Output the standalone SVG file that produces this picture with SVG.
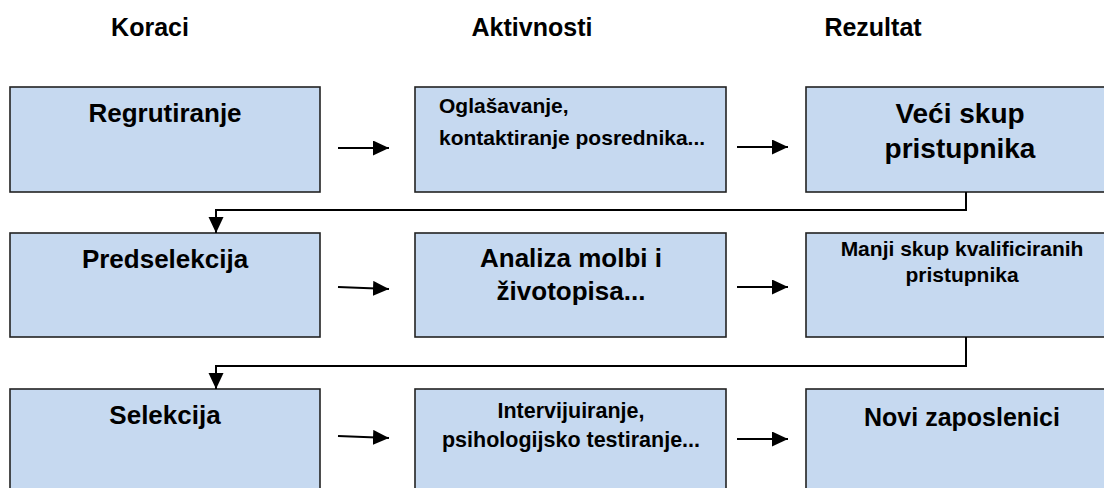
<svg xmlns="http://www.w3.org/2000/svg" width="1104" height="488" viewBox="0 0 1104 488">
<style>
.box{fill:#C6D9F0;stroke:#222;stroke-width:1.6}
text{font-family:"Liberation Sans",Arial,sans-serif;font-weight:bold;fill:#000}
.c{text-anchor:middle}
.conn{fill:none;stroke:#000;stroke-width:2}
</style>
<defs>
<marker id="ah" markerWidth="16" markerHeight="16" refX="16" refY="7.5" orient="auto" markerUnits="userSpaceOnUse">
<path d="M0,0 L16,7.5 L0,15 Z" fill="#000"/>
</marker>
</defs>
<rect width="1104" height="488" fill="#fff"/>
<g id="headers">
<text class="c" x="150" y="36" font-size="25">Koraci</text>
<text class="c" x="532" y="36" font-size="25">Aktivnosti</text>
<text class="c" x="873" y="36" font-size="25">Rezultat</text>
</g>
<g id="n-regrutiranje">
<rect class="box" x="10" y="87" width="310" height="105"/>
<text class="c" x="165" y="122" font-size="26">Regrutiranje</text>
</g>
<g id="n-oglasavanje">
<rect class="box" x="415" y="87" width="311" height="105"/>
<text x="439" y="113" font-size="21">Oglašavanje,</text>
<text x="439" y="145" font-size="21">kontaktiranje posrednika...</text>
</g>
<g id="n-veci">
<rect class="box" x="806" y="87" width="310" height="105"/>
<text class="c" x="960" y="123" font-size="28">Veći skup</text>
<text class="c" x="960" y="158" font-size="28">pristupnika</text>
</g>
<g id="n-predselekcija">
<rect class="box" x="10" y="233" width="310" height="104"/>
<text class="c" x="165" y="268" font-size="26">Predselekcija</text>
</g>
<g id="n-analiza">
<rect class="box" x="415" y="233" width="311" height="104"/>
<text class="c" x="571" y="267" font-size="26">Analiza molbi i</text>
<text class="c" x="571" y="300" font-size="26">životopisa...</text>
</g>
<g id="n-manji">
<rect class="box" x="806" y="233" width="310" height="104"/>
<text class="c" x="962" y="256" font-size="21">Manji skup kvalificiranih</text>
<text class="c" x="962" y="282" font-size="21">pristupnika</text>
</g>
<g id="n-selekcija">
<rect class="box" x="10" y="389" width="310" height="110"/>
<text class="c" x="165" y="424" font-size="26">Selekcija</text>
</g>
<g id="n-intervju">
<rect class="box" x="415" y="389" width="311" height="110"/>
<text class="c" x="571" y="418" font-size="21.5">Intervijuiranje,</text>
<text class="c" x="571" y="447" font-size="21.5">psihologijsko testiranje...</text>
</g>
<g id="n-novi">
<rect class="box" x="806" y="389" width="310" height="110"/>
<text class="c" x="962" y="426" font-size="25">Novi zaposlenici</text>
</g>
<g id="connectors">
<path class="conn" d="M338,148 L389,148" marker-end="url(#ah)"/>
<path class="conn" d="M737,147 L788,147" marker-end="url(#ah)"/>
<path class="conn" d="M338,287 L389,289" marker-end="url(#ah)"/>
<path class="conn" d="M737,287 L788,287" marker-end="url(#ah)"/>
<path class="conn" d="M338,436 L389,438" marker-end="url(#ah)"/>
<path class="conn" d="M737,439 L788,439" marker-end="url(#ah)"/>
<path class="conn" d="M966,192 L966,210 L216,210 L216,233" marker-end="url(#ah)"/>
<path class="conn" d="M966,337 L966,366 L216,366 L216,389" marker-end="url(#ah)"/>
</g>
</svg>
